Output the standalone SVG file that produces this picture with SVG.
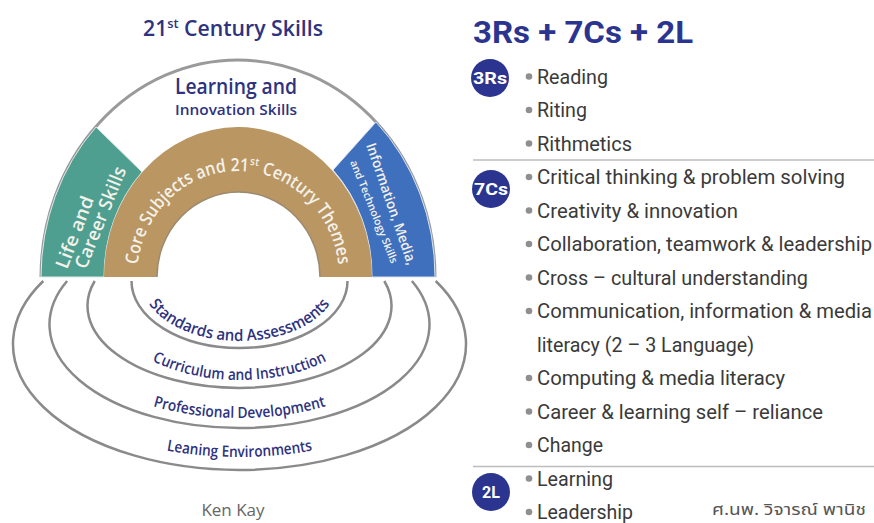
<svg xmlns="http://www.w3.org/2000/svg" width="874" height="523" viewBox="0 0 874 523">
<style>
.ring{fill:none;stroke:#8a8a8a;stroke-width:2.5}
.lbl{font-family:"Open Sans","Liberation Sans",sans-serif;font-weight:600;fill:#2e327f}
.wt{font-family:"Open Sans","Liberation Sans",sans-serif;font-weight:600;fill:#f4f1ea}
.li{font-family:Roboto,"Liberation Sans",sans-serif;font-size:20px;fill:#3a3a3a}
.dot{fill:#8f8f8f}
.badge{fill:#2b3590}
.bt{font-family:Roboto,"Liberation Sans",sans-serif;font-weight:700;font-size:16px;fill:#fff;text-anchor:middle}
.sep{stroke:#bdbdbd;stroke-width:1.5}
</style>
<defs>
<path id="pCore" d="M 137,277 A 101 106 0 0 1 339,277"/>
<path id="p1" d="M 141.5,281 A 98 60 0 0 0 337.5,281"/>
<path id="p2" d="M 105.5,300 A 134 80 0 0 0 373.5,300"/>
<path id="p3" d="M 41.5,300 A 198 118 0 0 0 437.5,300"/>
<path id="p4" d="M 9.5,330 A 230 127 0 0 0 469.5,330"/>
</defs>
<rect width="874" height="523" fill="#fff"/>

<g id="title-left">
<text class="lbl" x="143" y="36" font-size="21.5" font-weight="700" textLength="180" lengthAdjust="spacingAndGlyphs">21<tspan font-size="13" dy="-8">st</tspan><tspan dy="8"> Century Skills</tspan></text>
</g>

<g id="support-rings">
<path class="ring" d="M 43.3,281 A 226.5 126 0 1 0 435.7,281"/>
<path class="ring" d="M 67.1,281 A 190 103.5 0 1 0 411.9,281"/>
<path class="ring" d="M 94.7,281 A 152 82 0 1 0 384.3,281"/>
<path class="ring" d="M 131.5,281 A 108 67 0 0 0 347.5,281"/>
</g>
<g id="standards"><text class="lbl" font-size="16" textLength="202" lengthAdjust="spacingAndGlyphs"><textPath href="#p1" startOffset="50%" text-anchor="middle">Standards and Assessments</textPath></text></g>
<g id="curriculum"><text class="lbl" font-size="15.5" textLength="180" lengthAdjust="spacingAndGlyphs"><textPath href="#p2" startOffset="50%" text-anchor="middle">Curriculum and Instruction</textPath></text></g>
<g id="professional"><text class="lbl" font-size="15.5" textLength="175" lengthAdjust="spacingAndGlyphs"><textPath href="#p3" startOffset="50%" text-anchor="middle">Professional Development</textPath></text></g>
<g id="environments"><text class="lbl" font-size="15.5" textLength="147" lengthAdjust="spacingAndGlyphs"><textPath href="#p4" startOffset="50%" text-anchor="middle">Leaning Environments</textPath></text></g>

<g id="learning-innovation">
<path d="M 41,277 A 197 217 0 0 1 435,277 L 372,277 A 134 150 0 0 0 104,277 Z" fill="#fff"/>
<path d="M 41,277 A 197 217 0 0 1 435,277" fill="none" stroke="#9a9a9a" stroke-width="3"/>
<text class="lbl" x="236" y="94" font-size="22" text-anchor="middle" textLength="122" lengthAdjust="spacingAndGlyphs">Learning and</text>
<text class="lbl" x="236" y="115" font-size="15" text-anchor="middle" textLength="122" lengthAdjust="spacingAndGlyphs">Innovation Skills</text>
</g>

<g id="life-career">
<path d="M 41,277 A 197 217 0 0 1 96,127 L 142,172 A 134 150 0 0 0 104,277 Z" fill="#4f9f90" stroke="#dfe9e6" stroke-width="1"/>
<text class="wt" font-size="18.5" transform="translate(67,270) rotate(-69)" textLength="76" lengthAdjust="spacingAndGlyphs">Life and</text>
<text class="wt" font-size="18.5" transform="translate(86,270) rotate(-68)" textLength="108" lengthAdjust="spacingAndGlyphs">Career Skills</text>
</g>

<g id="information-media">
<path d="M 435,277 A 197 217 0 0 0 376,122 L 333,170 A 134 150 0 0 1 372,277 Z" fill="#3e70be" stroke="#dbe3ef" stroke-width="1"/>
<text class="wt" font-size="14" transform="translate(366,145) rotate(71)" textLength="128" lengthAdjust="spacingAndGlyphs">Information, Media,</text>
<text class="wt" font-size="10.5" transform="translate(350,162) rotate(68)" textLength="110" lengthAdjust="spacingAndGlyphs">and Technology Skills</text>
</g>

<g id="core-subjects">
<path d="M 104,277 A 134 150 0 0 1 372,277 L 320,277 A 81.5 85 0 0 0 157,277 Z" fill="#b99662"/>
<path d="M 157,277 A 81.5 85 0 0 1 320,277" fill="none" stroke="#9c8a70" stroke-width="1.5"/>
<text class="wt" font-size="18" textLength="300" lengthAdjust="spacingAndGlyphs"><textPath href="#pCore" startOffset="50%" text-anchor="middle">Core Subjects and 21<tspan font-size="11" dy="-7">st</tspan><tspan dy="7"> Century Themes</tspan></textPath></text>
</g>

<g id="author-left">
<text x="233" y="516" font-family="'Open Sans','Liberation Sans',sans-serif" font-size="17" fill="#666" text-anchor="middle">Ken Kay</text>
</g>

<g id="title-right">
<text x="473" y="43" font-family="Roboto,'Liberation Sans',sans-serif" font-weight="700" font-size="31" fill="#2b3590" textLength="220" lengthAdjust="spacingAndGlyphs">3Rs + 7Cs + 2L</text>
</g>

<g id="separators">
<line class="sep" x1="473" y1="160" x2="874" y2="160"/>
<line class="sep" x1="473" y1="466.5" x2="874" y2="466.5"/>
</g>

<g id="badge-3rs"><circle class="badge" cx="490" cy="78" r="19"/><text class="bt" x="490" y="84" textLength="34" lengthAdjust="spacingAndGlyphs">3Rs</text></g>
<g id="badge-7cs"><circle class="badge" cx="491" cy="189" r="19"/><text class="bt" x="491" y="195" textLength="34" lengthAdjust="spacingAndGlyphs">7Cs</text></g>
<g id="badge-2l"><circle class="badge" cx="491" cy="492" r="19"/><text class="bt" x="491" y="498" font-size="17">2L</text></g>

<g id="list">
<circle class="dot" cx="529" cy="76.5" r="3.3"/><text class="li" x="537" y="83.5" textLength="71" lengthAdjust="spacingAndGlyphs">Reading</text>
<circle class="dot" cx="529" cy="110" r="3.3"/><text class="li" x="537" y="117" textLength="50" lengthAdjust="spacingAndGlyphs">Riting</text>
<circle class="dot" cx="529" cy="143.5" r="3.3"/><text class="li" x="537" y="150.5" textLength="95" lengthAdjust="spacingAndGlyphs">Rithmetics</text>
<circle class="dot" cx="529" cy="177" r="3.3"/><text class="li" x="537" y="184" textLength="308" lengthAdjust="spacingAndGlyphs">Critical thinking &amp; problem solving</text>
<circle class="dot" cx="529" cy="210.5" r="3.3"/><text class="li" x="537" y="217.5" textLength="201" lengthAdjust="spacingAndGlyphs">Creativity &amp; innovation</text>
<circle class="dot" cx="529" cy="244" r="3.3"/><text class="li" x="537" y="251" textLength="335" lengthAdjust="spacingAndGlyphs">Collaboration, teamwork &amp; leadership</text>
<circle class="dot" cx="529" cy="277.5" r="3.3"/><text class="li" x="537" y="284.5" textLength="271" lengthAdjust="spacingAndGlyphs">Cross – cultural understanding</text>
<circle class="dot" cx="529" cy="311" r="3.3"/><text class="li" x="537" y="318" textLength="335" lengthAdjust="spacingAndGlyphs">Communication, information &amp; media</text>
<text class="li" x="537" y="351.5" textLength="217" lengthAdjust="spacingAndGlyphs">literacy (2 – 3 Language)</text>
<circle class="dot" cx="529" cy="378" r="3.3"/><text class="li" x="537" y="385" textLength="248" lengthAdjust="spacingAndGlyphs">Computing &amp; media literacy</text>
<circle class="dot" cx="529" cy="411.5" r="3.3"/><text class="li" x="537" y="418.5" textLength="286" lengthAdjust="spacingAndGlyphs">Career &amp; learning self – reliance</text>
<circle class="dot" cx="529" cy="445" r="3.3"/><text class="li" x="537" y="452" textLength="66" lengthAdjust="spacingAndGlyphs">Change</text>
<circle class="dot" cx="529" cy="478.5" r="3.3"/><text class="li" x="537" y="485.5" textLength="76" lengthAdjust="spacingAndGlyphs">Learning</text>
<circle class="dot" cx="529" cy="512" r="3.3"/><text class="li" x="537" y="518.5" textLength="96" lengthAdjust="spacingAndGlyphs">Leadership</text>
</g>

<g id="author-right">
<text x="712" y="515" font-family="'Noto Sans Thai','Noto Sans','DejaVu Sans',sans-serif" font-size="16.5" fill="#555" textLength="154" lengthAdjust="spacingAndGlyphs">ศ.นพ. วิจารณ์ พานิช</text>
</g>
</svg>
